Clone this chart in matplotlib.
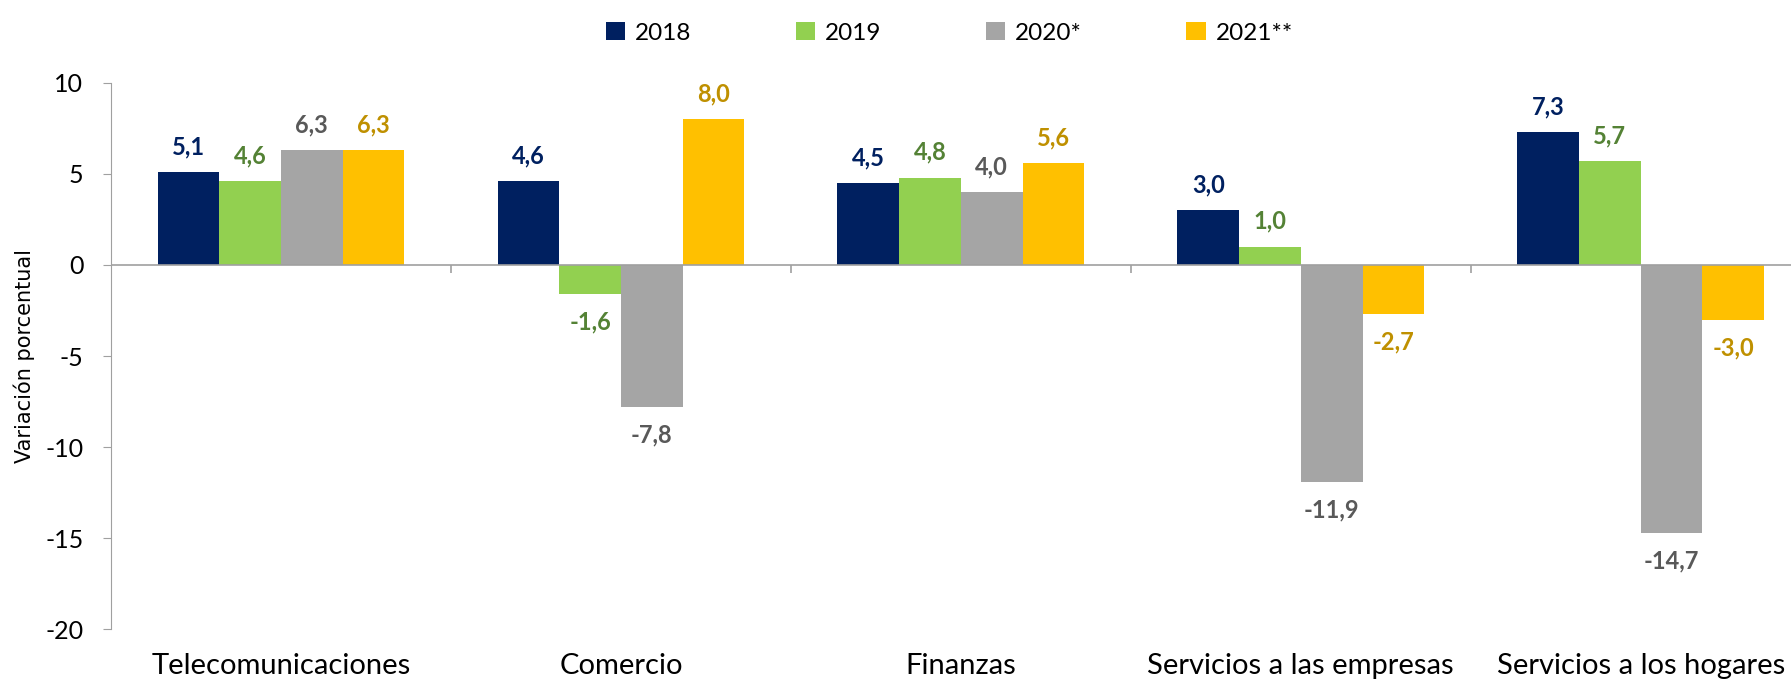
import matplotlib
matplotlib.use('Agg')
import matplotlib.pyplot as plt
import numpy as np

categories = ['Telecomunicaciones', 'Comercio', 'Finanzas', 'Servicios a las empresas', 'Servicios a los hogares']
years = ['2018', '2019', '2020*', '2021**']
v2018 = [5.1, 4.6, 4.5, 3.0, 7.3]
v2019 = [4.6, -1.6, 4.8, 1.0, 5.7]
v2020 = [6.3, -7.8, 4.0, -11.9, -14.7]
v2021 = [6.3, 8.0, 5.6, -2.7, -3.0]
series = [v2018, v2019, v2020, v2021]

bar_colors = ['#002060', '#92D050', '#A5A5A5', '#FFC000']
label_colors = ['#002060', '#548235', '#595959', '#BF9000']

matplotlib.rcParams['font.family'] = ['Lato', 'DejaVu Sans']
matplotlib.rcParams['axes.unicode_minus'] = False

fig = plt.figure(figsize=(17.91, 6.87), dpi=100)
ax = fig.add_axes([0.062, 0.0844, 0.949, 0.7948])

width = 0.1815
centers = np.arange(len(categories)) + 0.5
for k, vals in enumerate(series):
    x = centers + (k - 1.5) * width
    ax.bar(x, vals, width, color=bar_colors[k], label=years[k], zorder=2)
    for xi, v in zip(x, vals):
        off = 10 if v >= 0 else -12
        ax.annotate(('%.1f' % v).replace('.', ','), (xi, v), xytext=(0, off),
                    textcoords='offset points', ha='center',
                    va='bottom' if v >= 0 else 'top',
                    fontsize=17, fontweight='bold', color=label_colors[k])

ax.set_xlim(0, len(categories))
ax.set_ylim(-20, 10)
ax.set_yticks([10, 5, 0, -5, -10, -15, -20])
ax.tick_params(axis='y', labelsize=18, length=6, color='#A0A0A0', pad=14)

ax.axhline(0, color='#A0A0A0', lw=1.2, zorder=3)
ax.vlines(np.arange(1, len(categories)), 0, -0.45, color='#A0A0A0', lw=1.2, zorder=3)

ax.set_xticks(centers)
ax.set_xticklabels(categories, fontsize=21)
ax.tick_params(axis='x', length=0, pad=17)

for s in ['top', 'right', 'bottom']:
    ax.spines[s].set_visible(False)
ax.spines['left'].set_color('#A0A0A0')

ax.set_ylabel('Variación porcentual', fontsize=15, family='DejaVu Sans')
ax.yaxis.set_label_coords(-0.045, 0.5)

fig.legend(loc='upper center', bbox_to_anchor=(0.53, 1.0), ncol=4, frameon=False,
           fontsize=17.5, handlelength=0.8, handleheight=0.8, columnspacing=4.3,
           handletextpad=0.4)

plt.savefig('out.png', dpi=100)
